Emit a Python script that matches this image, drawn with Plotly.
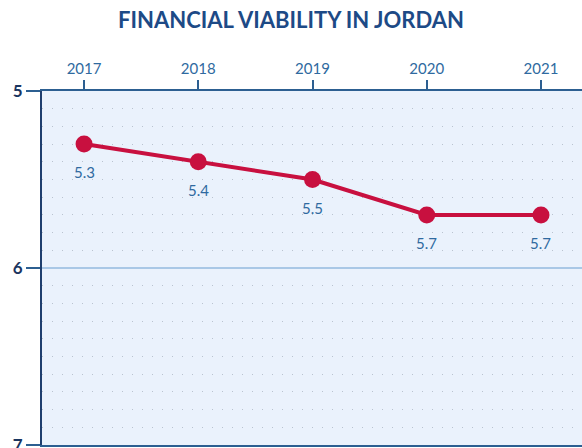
import plotly.graph_objects as go

years = [2017, 2018, 2019, 2020, 2021]
scores = [5.3, 5.4, 5.5, 5.7, 5.7]
score_labels = ["5.3", "5.4", "5.5", "5.7", "5.7"]
y_ticks = [5, 6, 7]

navy = "#1d4a86"
axis_blue = "#2c5f91"
label_blue = "#2f6aa0"
crimson = "#c8103f"

fig = go.Figure()
fig.add_trace(go.Scatter(
    x=years, y=scores, mode="lines+markers",
    line=dict(color=crimson, width=4),
    marker=dict(color=crimson, size=17),
    hoverinfo="skip", showlegend=False,
))

for x, y, t in zip(years, scores, score_labels):
    fig.add_annotation(x=x, y=y, text=t, showarrow=False, yshift=-28,
                       font=dict(family="Lato", size=15, color=label_blue))

fig.update_layout(
    width=582, height=448,
    margin=dict(l=42, r=0, t=91, b=3, autoexpand=False),
    paper_bgcolor="white",
    plot_bgcolor="#eaf2fc",
    title=dict(text="<b>FINANCIAL VIABILITY IN JORDAN</b>", x=0.5, xanchor="center",
               y=0.955, yanchor="middle",
               font=dict(family="Lato", size=22, color=navy)),
    xaxis=dict(
        side="top", range=[2016.632, 2021.359], automargin=False,
        tickvals=years, ticktext=[str(y) for y in years],
        ticks="outside", ticklen=9, tickwidth=2, tickcolor=axis_blue,
        showline=True, linecolor=axis_blue, linewidth=2, mirror=True,
        showgrid=False, zeroline=False,
        tickfont=dict(family="Lato", size=15, color=label_blue),
    ),
    yaxis=dict(
        range=[7, 5], tickvals=y_ticks, ticktext=["<b>%d</b>" % v for v in y_ticks],
        ticks="outside", ticklen=14, tickwidth=2, tickcolor=axis_blue,
        ticklabeloverflow="allow", automargin=False,
        showline=True, linecolor="#1f3f6e", linewidth=2,
        showgrid=True, gridcolor="#a9c8e6", gridwidth=1.5,
        zeroline=False,
        tickfont=dict(family="Lato", size=17, color="#1a3560"),
        minor=dict(dtick=0.1, tick0=5, showgrid=True, gridcolor="#b9c3cf",
                   griddash="1px,9px", gridwidth=1),
    ),
)

fig.write_html("out.html", config={"displayModeBar": False},
               post_script="document.body.style.margin='0';")
